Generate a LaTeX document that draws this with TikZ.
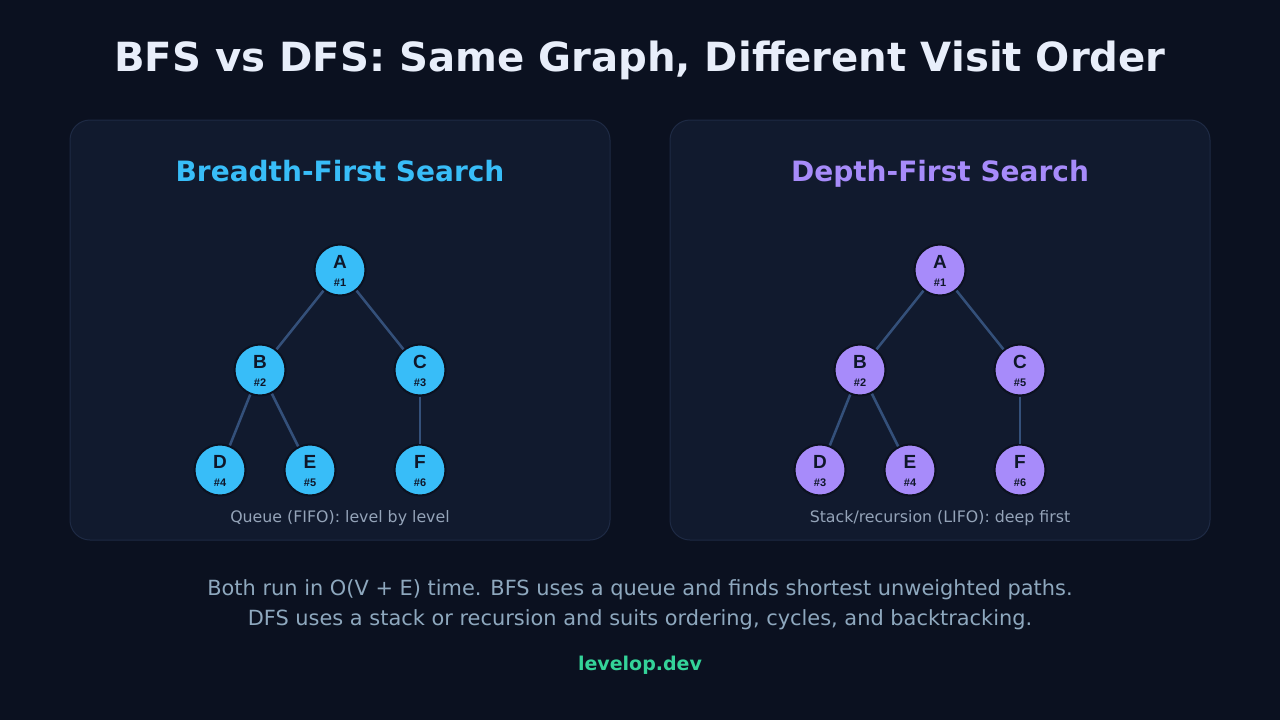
\documentclass[tikz,border=0pt]{standalone}
\usepackage{fontspec}
\setmainfont{DejaVu Sans}
\newfontfamily\nodefont{Liberation Sans}
\definecolor{bgc}{HTML}{0B1120}
\definecolor{panelc}{HTML}{111A2E}
\definecolor{panelb}{HTML}{1E2A44}
\definecolor{titlec}{HTML}{E8EEFA}
\definecolor{bfsc}{HTML}{38BDF8}
\definecolor{dfsc}{HTML}{A78BFA}
\definecolor{edgec}{HTML}{34507A}
\definecolor{nodetext}{HTML}{0F172A}
\definecolor{capc}{HTML}{94A3B8}
\definecolor{footc}{HTML}{8EA8BE}
\definecolor{brandc}{HTML}{34D399}
\begin{document}
\begin{tikzpicture}[x=1pt,y=-1pt,
  every node/.style={anchor=base,inner sep=0pt},
  panel/.style={draw=panelb,line width=1pt,fill=panelc,rounded corners=20pt},
  gnode/.style={circle,anchor=center,minimum size=51pt,inner sep=0pt,draw=bgc,line width=2pt,fill=#1},
  gedge/.style={draw=edgec,line width=2.5pt},
  captext/.style={text=capc,font=\fontsize{15.8}{18}\selectfont},
  foot/.style={text=footc,font=\fontsize{20.9}{24}\selectfont}]
\useasboundingbox (0,0) rectangle (1280,720);
\fill[bgc] (0,0) rectangle (1280,720);
\node[text=titlec,font=\fontsize{40.2}{48}\selectfont\bfseries] (title) at (640,71) {BFS vs DFS: Same Graph, Different Visit Order};
\draw[panel] (70,120) rectangle (610,540);
\draw[panel] (670,120) rectangle (1210,540);
\node[text=bfsc,font=\fontsize{28}{34}\selectfont\bfseries] (bt) at (340,181) {Breadth-First Search};
\node[text=dfsc,font=\fontsize{28}{34}\selectfont\bfseries] (dt) at (940,181) {Depth-First Search};
\foreach \p/\dx/\c/\oa/\ob/\oc/\od/\oe/\of in {b/0/bfsc/1/2/3/4/5/6, d/600/dfsc/1/2/5/3/4/6}{
  \node[gnode=\c] (\p A) at (340+\dx,270) {};
  \node[gnode=\c] (\p B) at (260+\dx,370) {};
  \node[gnode=\c] (\p C) at (420+\dx,370) {};
  \node[gnode=\c] (\p D) at (220+\dx,470) {};
  \node[gnode=\c] (\p E) at (310+\dx,470) {};
  \node[gnode=\c] (\p F) at (420+\dx,470) {};
  \draw[gedge] (\p A) -- (\p B);
  \draw[gedge] (\p A) -- (\p C);
  \draw[gedge] (\p B) -- (\p D);
  \draw[gedge] (\p B) -- (\p E);
  \draw[gedge] (\p C) -- (\p F);
  \foreach \n/\o in {A/\oa,B/\ob,C/\oc,D/\od,E/\oe,F/\of}{
    \node[text=nodetext,font=\nodefont\fontsize{19}{20}\selectfont\bfseries] (\p\n l) at ([yshift=2pt]\p\n.center) {\n};
    \node[text=nodetext,font=\nodefont\fontsize{11}{12}\selectfont\bfseries] (\p\n o) at ([yshift=-16pt]\p\n.center) {\#\o};
  }
}
\node[captext] (bc) at (340,522) {Queue (FIFO): level by level};
\node[captext] (dc) at (940,522) {Stack/recursion (LIFO): deep first};
\node[foot] (f1) at (640,595) {Both run in O(V + E) time. BFS uses a queue and finds shortest unweighted paths.};
\node[foot] (f2) at (640,625) {DFS uses a stack or recursion and suits ordering, cycles, and backtracking.};
\node[text=brandc,font=\fontsize{19}{22}\selectfont\bfseries] (brand) at (640,670) {levelop.dev};
\end{tikzpicture}
\end{document}
